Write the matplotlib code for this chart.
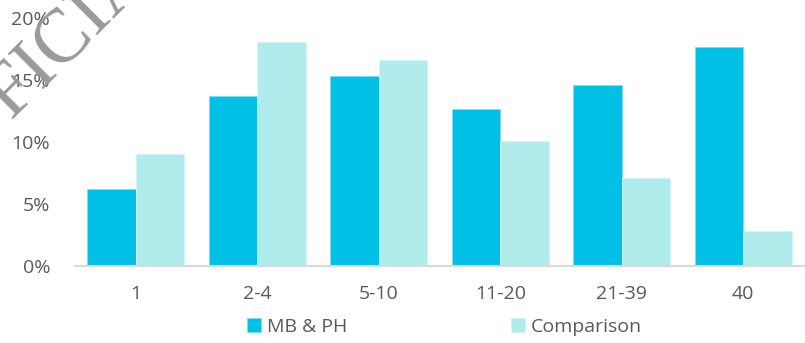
import matplotlib
matplotlib.use('Agg')
import matplotlib.pyplot as plt
import numpy as np
from matplotlib.ticker import PercentFormatter

# data
categories = ['1', '2-4', '5-10', '11-20', '21-39', '40']
mb_ph = [6.2, 13.7, 15.3, 12.7, 14.6, 17.7]
comparison = [9.0, 18.1, 16.6, 10.1, 7.1, 2.8]

plt.rcParams['font.family'] = ['Open Sans', 'DejaVu Sans']

fig = plt.figure(figsize=(8.05, 3.43), dpi=100)
ax = fig.add_axes([75 / 805, 77 / 343, 729 / 805, 248 / 343])

x = np.arange(len(categories))
w = 0.4
ax.bar(x - w / 2, mb_ph, w, color='#00C0E6', edgecolor='#7FDDF0', linewidth=0.6,
       label='MB & PH', zorder=2)
ax.bar(x + w / 2, comparison, w, color='#AFECEB', edgecolor='#D5F5F5', linewidth=0.6,
       label='Comparison', zorder=2)

ax.set_xlim(-0.5, len(categories) - 0.5)
ax.set_ylim(0, 20)
ax.set_yticks([0, 5, 10, 15, 20])
ax.yaxis.set_major_formatter(PercentFormatter(decimals=0))
ax.set_xticks(x)
ax.set_xticklabels(categories)
ax.tick_params(axis='both', length=0, labelsize=14, labelcolor='#595959')
ax.tick_params(axis='y', pad=18)
ax.tick_params(axis='x', pad=14)

for s in ['top', 'right', 'left']:
    ax.spines[s].set_visible(False)
ax.spines['bottom'].set_color('#D9D9D9')
ax.spines['bottom'].set_linewidth(1.5)

fig.legend(loc='center', bbox_to_anchor=(0.552, 0.047), ncol=2, frameon=False,
           fontsize=14, labelcolor='#595959', handlelength=0.75, handleheight=0.75,
           handletextpad=0.3, columnspacing=8.4)

# watermark
fig.text(-58 / 805, 156 / 343, 'OFFICIAL', rotation=45, rotation_mode='anchor',
         ha='left', va='baseline', fontsize=55, family='Liberation Serif',
         color='#9a9a9a', zorder=0)

fig.savefig('out.png', dpi=100)
